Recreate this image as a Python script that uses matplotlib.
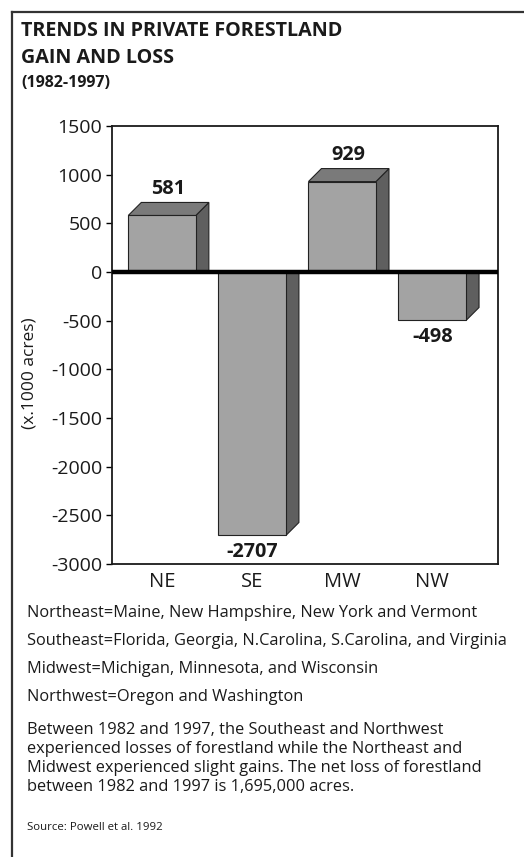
import numpy as np
import matplotlib
matplotlib.use('Agg')
import matplotlib.pyplot as plt
from matplotlib.patches import Polygon
from matplotlib.lines import Line2D

plt.rcParams['font.family'] = ['Open Sans', 'DejaVu Sans']

# 地域ごとの森林面積の増減 (x1000 acres)
regions = ['NE', 'SE', 'MW', 'NW']
change = [581, -2707, 929, -498]
yticks = [1500, 1000, 500, 0, -500, -1000, -1500, -2000, -2500, -3000]

notes = [
    'Northeast=Maine, New Hampshire, New York and Vermont',
    'Southeast=Florida, Georgia, N.Carolina, S.Carolina, and Virginia',
    'Midwest=Michigan, Minnesota, and Wisconsin',
    'Northwest=Oregon and Washington',
]
summary = ('Between 1982 and 1997, the Southeast and Northwest\n'
           'experienced losses of forestland while the Northeast and\n'
           'Midwest experienced slight gains. The net loss of forestland\n'
           'between 1982 and 1997 is 1,695,000 acres.')
source = 'Source: Powell et al. 1992'

W, H = 524, 857
fig = plt.figure(figsize=(W / 100, H / 100), dpi=100)

# 外枠 (左と上の線)
fig.add_artist(Line2D([12 / W, 12 / W], [0, 1 - 12 / H], color='#333333', lw=1.6))
fig.add_artist(Line2D([12 / W, 1], [1 - 12 / H, 1 - 12 / H], color='#333333', lw=1.6))

# タイトル
fig.text(21 / W, 1 - 31 / H, 'TRENDS IN PRIVATE FORESTLAND', fontsize=14.2,
         fontweight='bold', va='center', color='#1a1a1a')
fig.text(21 / W, 1 - 58 / H, 'GAIN AND LOSS', fontsize=14.2,
         fontweight='bold', va='center', color='#1a1a1a')
fig.text(21 / W, 1 - 83 / H, '(1982-1997)', fontsize=11.5,
         fontweight='bold', va='center', color='#1a1a1a')

ax_l, ax_r, ax_t, ax_b = 112, 498, 126, 564
ax = fig.add_axes([ax_l / W, 1 - ax_b / H, (ax_r - ax_l) / W, (ax_b - ax_t) / H])

x = np.arange(len(regions))
width = 0.75
ax.set_xlim(-0.556, 3.73)
ax.set_ylim(-3000, 1500)

# 奥行き (ピクセル -> データ単位)
px_x = (3.73 + 0.556) / (ax_r - ax_l)
px_y = 4500 / (ax_b - ax_t)
dx = 13 * px_x
dz = 13 * px_y

front_c = '#a3a3a3'
top_c = '#7a7a7a'
side_c = '#5f5f5f'

ax.bar(x, change, width=width, color=front_c, edgecolor='#222222', linewidth=0.8, zorder=3)
for xi, v in zip(x, change):
    x0 = xi - width / 2
    x1 = xi + width / 2
    side = Polygon([(x1, 0), (x1, v), (x1 + dx, v + dz), (x1 + dx, 0)],
                   closed=True, facecolor=side_c, edgecolor='#222222', lw=0.8, zorder=2)
    ax.add_patch(side)
    if v > 0:
        top = Polygon([(x0, v), (x0 + dx, v + dz), (x1 + dx, v + dz), (x1, v)],
                      closed=True, facecolor=top_c, edgecolor='#222222', lw=0.8, zorder=3)
        ax.add_patch(top)
        ax.text(xi + dx / 2, v + dz + 40, f'{v}', ha='center', va='bottom',
                fontsize=14.3, fontweight='bold', color='#1a1a1a')
    else:
        ax.text(xi, v - 70, f'{v}', ha='center', va='top',
                fontsize=14.3, fontweight='bold', color='#1a1a1a')

# ゼロライン
ax.axhline(0, color='black', lw=3.2, zorder=5)

ax.set_yticks(yticks)
ax.set_yticklabels([str(t) for t in yticks], fontsize=14, color='#1a1a1a')
ax.set_xticks(x)
ax.set_xticklabels(regions, fontsize=14.5, color='#1a1a1a')
ax.tick_params(axis='x', length=0, pad=6)
ax.tick_params(axis='y', length=4, width=1, direction='out', pad=3)
for s in ax.spines.values():
    s.set_linewidth(1.3)
    s.set_color('#1a1a1a')

fig.text(30 / W, 1 - 373 / H, '(x.1000 acres)', rotation=90, fontsize=12.5,
         ha='center', va='center', color='#1a1a1a')

# 地域の説明
for i, line in enumerate(notes):
    fig.text(27 / W, 1 - (613 + 28 * i) / H, line, fontsize=11.8,
             va='center', color='#1a1a1a')
fig.text(27 / W, 1 - 722 / H, summary, fontsize=11.8, va='top',
         linespacing=1.26, color='#1a1a1a')
fig.text(27 / W, 1 - 828 / H, source, fontsize=8.2, va='center',
         family=['Liberation Sans Narrow', 'Open Sans'], color='#1a1a1a')

fig.savefig('out.png', dpi=100)
